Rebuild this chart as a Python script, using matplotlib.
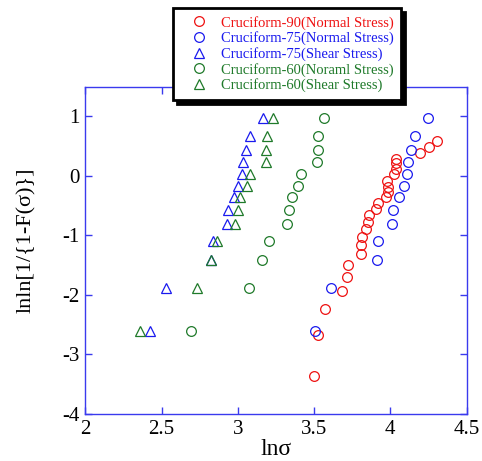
import matplotlib
matplotlib.use("Agg")
import matplotlib.pyplot as plt

plt.rcParams['font.family'] = ['Liberation Serif', 'DejaVu Serif']

# Cruciform-90 (Normal Stress)
c90_x = [3.50, 3.527, 3.571, 3.684, 3.715, 3.72, 3.807, 3.807, 3.815, 3.841, 3.855, 3.859,
         3.903, 3.916, 3.972, 3.982, 3.982, 3.977, 4.021, 4.034, 4.036, 4.036, 4.195, 4.252, 4.303]
c90_y = [-3.37, -2.67, -2.24, -1.94, -1.69, -1.50, -1.32, -1.16, -1.03, -0.90, -0.77, -0.66,
         -0.56, -0.45, -0.35, -0.27, -0.18, -0.09, 0.04, 0.12, 0.21, 0.29, 0.39, 0.49, 0.58]

# common plotting positions for n=13 series
y13 = [-2.60, -1.88, -1.42, -1.09, -0.81, -0.57, -0.36, -0.17, 0.04, 0.235, 0.436, 0.665, 0.97]

c75n_x = [3.507, 3.612, 3.91, 3.92, 4.014, 4.018, 4.06, 4.087, 4.11, 4.115, 4.134, 4.165, 4.25]
c75s_x = [2.426, 2.527, 2.826, 2.835, 2.929, 2.935, 2.974, 2.999, 3.029, 3.031, 3.051, 3.081, 3.164]
c60n_x = [2.69, 3.073, 3.158, 3.204, 3.32, 3.335, 3.352, 3.396, 3.413, 3.518, 3.523, 3.527, 3.566]
c60s_x = [2.358, 2.734, 2.826, 2.863, 2.983, 2.999, 3.016, 3.062, 3.077, 3.182, 3.186, 3.189, 3.228]

labels = ['Cruciform-90(Normal Stress)', 'Cruciform-75(Normal Stress)',
          'Cruciform-75(Shear Stress)', 'Cruciform-60(Noraml Stress)',
          'Cruciform-60(Shear Stress)']

red = '#ee1111'
blue = '#1a1aee'
green = '#1f7a2a'
axcol = '#3a3aee'

fig = plt.figure(figsize=(4.82, 4.61), dpi=100)
ax = fig.add_axes([0.177, 0.102, 0.791, 0.710])

ms = 7
mew = 0.9
ax.plot(c90_x, c90_y, 'o', ms=ms, mfc='none', mec=red, mew=mew, label=labels[0])
ax.plot(c75n_x, y13, 'o', ms=ms, mfc='none', mec=blue, mew=mew, label=labels[1])
ax.plot(c75s_x, y13, '^', ms=ms, mfc='none', mec=blue, mew=mew, label=labels[2])
ax.plot(c60n_x, y13, 'o', ms=ms, mfc='none', mec=green, mew=mew, label=labels[3])
ax.plot(c60s_x, y13, '^', ms=ms, mfc='none', mec=green, mew=mew, label=labels[4])

ax.set_xlim(2, 4.5)
ax.set_ylim(-4, 1.5)
ax.set_xticks([2, 2.5, 3, 3.5, 4, 4.5])
ax.set_xticklabels(['2', '2.5', '3', '3.5', '4', '4.5'])
ax.set_yticks([-4, -3, -2, -1, 0, 1])
ax.set_yticklabels(['-4', '-3', '-2', '-1', '0', '1'])
for s in ax.spines.values():
    s.set_color(axcol)
    s.set_linewidth(1.0)
ax.tick_params(direction='in', top=True, right=True, length=5, width=1.0,
               color=axcol, labelsize=15, labelcolor='black', pad=4)
ax.set_xlabel('lnσ', fontsize=17, labelpad=0)
ax.set_ylabel('lnln[1/{1-F(σ)}]', fontsize=16)
ax.yaxis.set_label_coords(-0.13, 0.53)

leg = fig.legend(loc='upper left', bbox_to_anchor=(0.359, 0.982), borderaxespad=0,
                 fontsize=10.5, frameon=True, fancybox=False,
                 shadow={'color': 'black', 'alpha': 1.0, 'ox': 3, 'oy': -3},
                 labelcolor='markeredgecolor', handlelength=2.56, handletextpad=0.23,
                 labelspacing=0.12, borderpad=0.5, markerscale=1.0)
leg.get_frame().set_edgecolor('black')
leg.get_frame().set_linewidth(2.0)
leg.get_frame().set_alpha(1)

fig.savefig('out.png', dpi=100)
